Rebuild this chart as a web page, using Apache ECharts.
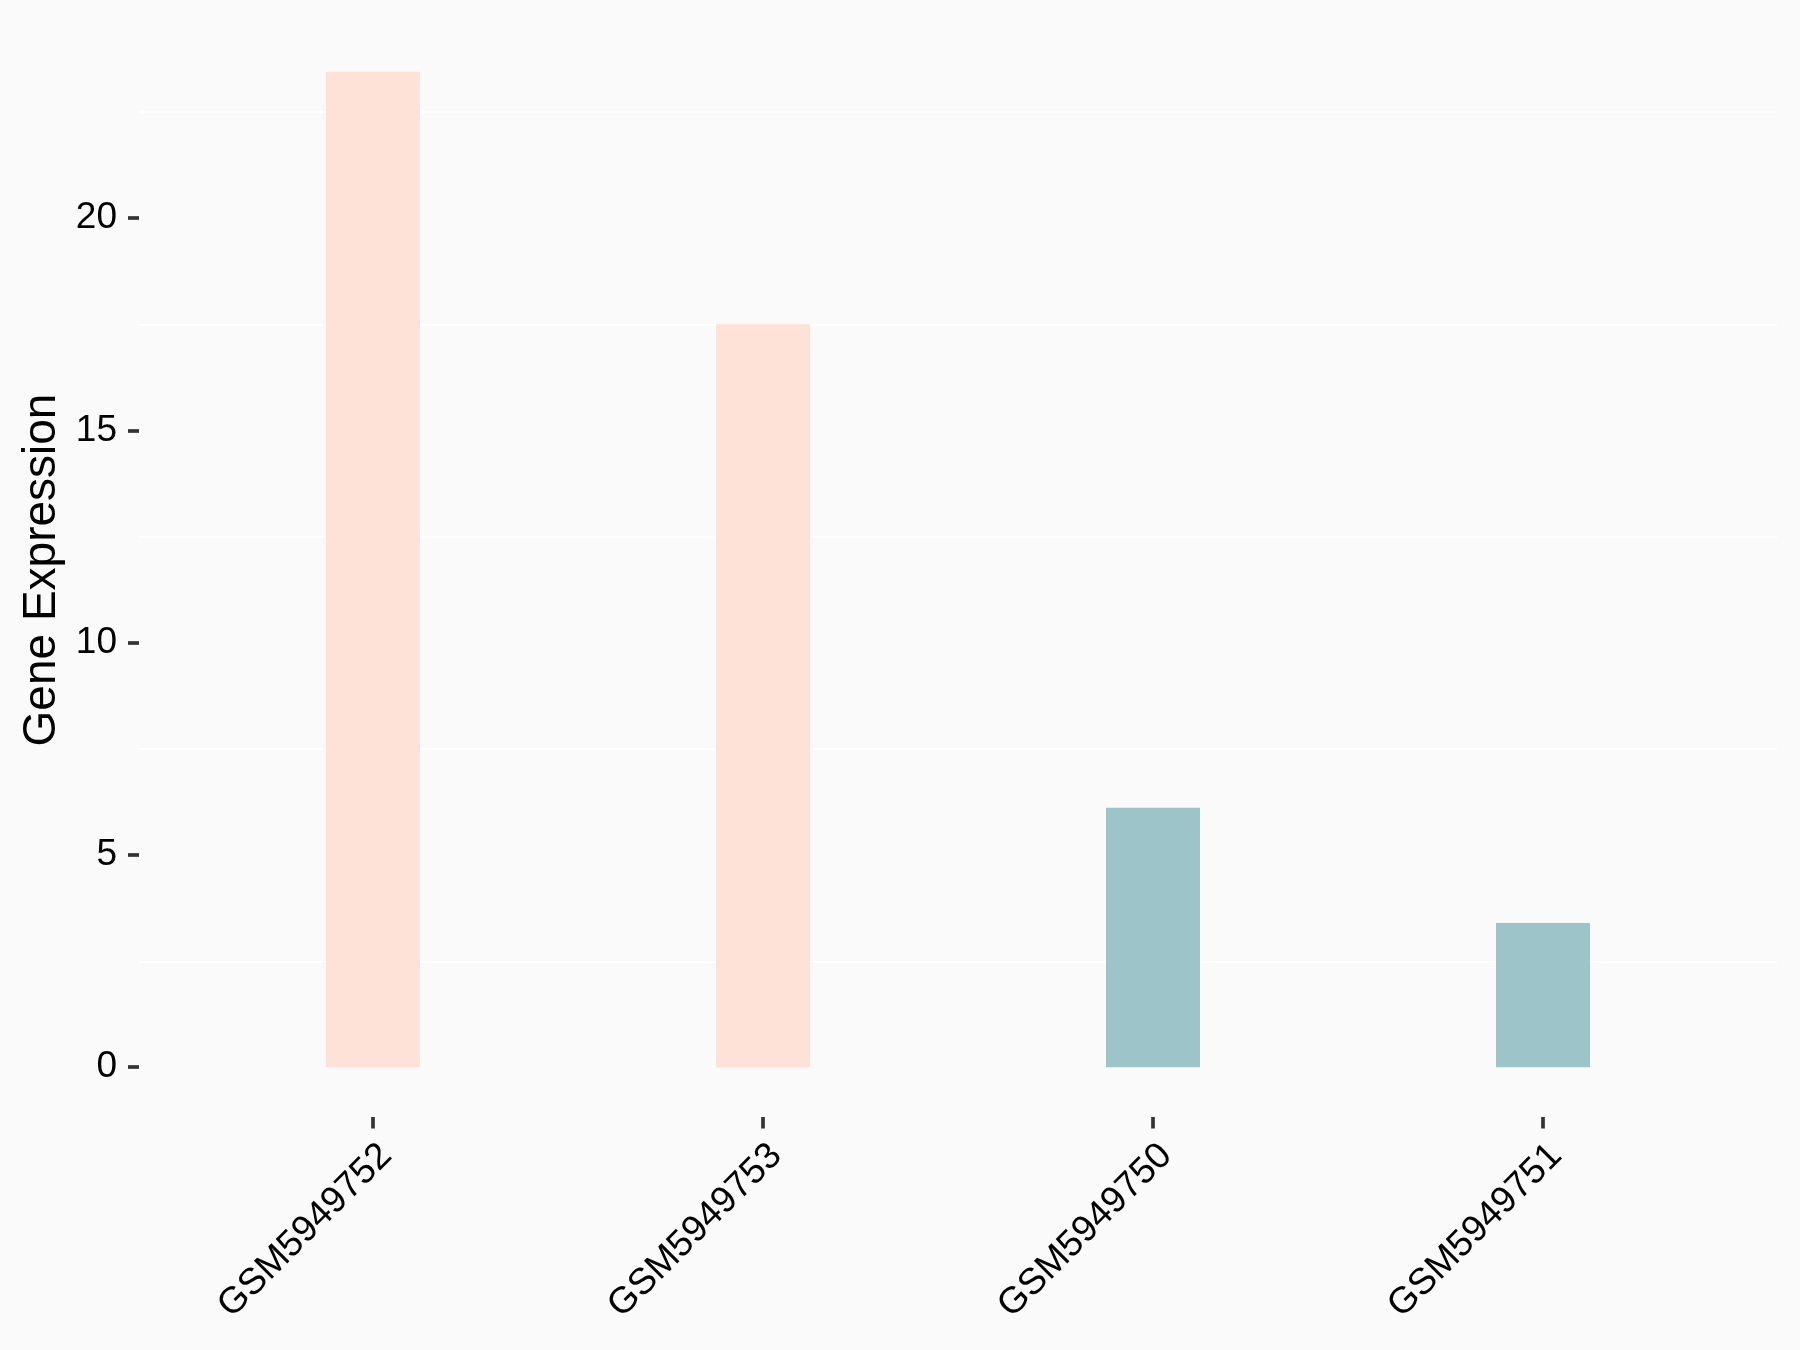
<!DOCTYPE html>
<html>
<head>
<meta charset="utf-8">
<script src="https://cdn.jsdelivr.net/npm/echarts@6/dist/echarts.min.js"></script>
<style>
  html, body { margin: 0; padding: 0; background: #FAFAFA; }
  #chart { width: 1800px; height: 1350px; }
</style>
</head>
<body>
<div id="chart"></div>
<script>
  // samples and their expression values
  const samples = ['GSM5949752', 'GSM5949753', 'GSM5949750', 'GSM5949751']
  const expression = [23.45, 17.5, 6.11, 3.4]
  const barColors = ['#FEE1D7', '#FEE1D7', '#9DC4C8', '#9DC4C8']
  const yTicks = [0, 5, 10, 15, 20]

  const font = 'Liberation Sans, Arial, sans-serif'
  const chart = echarts.init(document.getElementById('chart'))

  const option = {
    backgroundColor: '#FAFAFA',
    animation: false,
    grid: [
      { left: 178, right: 62, top: 6, bottom: 233, outerBoundsMode: 'none' },
      // full-width panel only used for the faint grid lines
      { left: 139, right: 23, top: 6, bottom: 282.5, outerBoundsMode: 'none' }
    ],
    xAxis: [
      {
        type: 'category',
        gridIndex: 0,
        data: samples,
        axisLine: { show: false, onZero: false },
        axisTick: { show: true, alignWithLabel: true, length: 11.5, lineStyle: { color: '#333333', width: 3.7 } },
        axisLabel: {
          rotate: 45,
          align: 'right',
          verticalAlign: 'top',
          margin: 20,
          fontSize: 37,
          color: '#000',
          fontFamily: font
        },
        splitLine: { show: false }
      },
      { type: 'value', gridIndex: 1, show: false, min: 0, max: 1 }
    ],
    yAxis: [
      {
        type: 'value',
        gridIndex: 0,
        min: -1.1725,
        max: 25,
        offset: 39,
        name: 'Gene Expression',
        nameLocation: 'middle',
        nameGap: 74,
        nameTextStyle: { fontSize: 46, color: '#000', fontFamily: font, padding: [0, 17, 0, 0] },
        axisLine: { show: false },
        axisTick: { show: true, customValues: yTicks, length: 11, lineStyle: { color: '#333333', width: 3.7 } },
        axisLabel: { customValues: yTicks, margin: 22, fontSize: 37, color: '#000', fontFamily: font },
        splitLine: { show: false }
      },
      {
        type: 'value',
        gridIndex: 1,
        min: 0,
        max: 25,
        interval: 2.5,
        axisLine: { show: false },
        axisTick: { show: false },
        axisLabel: { show: false },
        splitLine: { show: true, lineStyle: { color: ['#FAFAFA', '#FFFFFF'], width: 2 } }
      }
    ],
    series: [{
      type: 'bar',
      xAxisIndex: 0,
      yAxisIndex: 0,
      barWidth: 94,
      data: expression.map(function (v, i) {
        return { value: v, itemStyle: { color: barColors[i] } }
      })
    }]
  }
  chart.setOption(option)
</script>
</body>
</html>
